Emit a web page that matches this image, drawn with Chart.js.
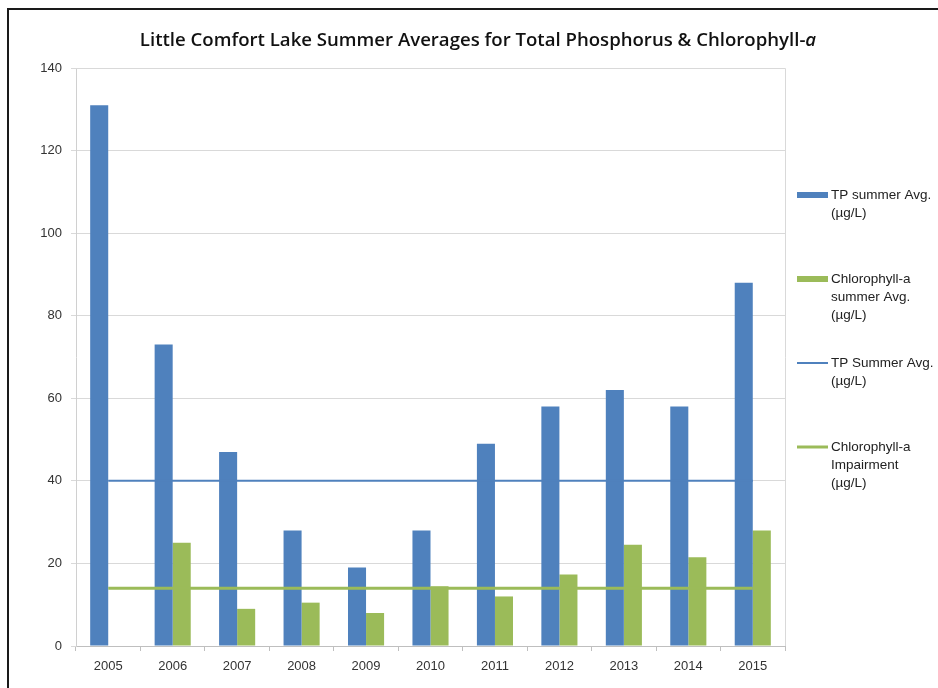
<!DOCTYPE html>
<html>
<head>
<meta charset="utf-8">
<script src="https://cdn.jsdelivr.net/npm/chart.js@4.4.1/dist/chart.umd.min.js"></script>
<style>
  body { margin: 0; background: #fff; overflow: hidden; }
  #wrap { position: relative; width: 938px; height: 688px; }
  #frame { position: absolute; left: 7px; top: 8px; width: 1000px; height: 1000px;
           border-left: 2px solid #1a1a1a; border-top: 2px solid #1a1a1a; pointer-events: none; }
</style>
</head>
<body>
<div id="wrap">
  <canvas id="chart" width="938" height="688"></canvas>
  <div id="frame"></div>
</div>
<script>
// data
const years = ['2005', '2006', '2007', '2008', '2009', '2010', '2011', '2012', '2013', '2014', '2015'];
const tpSummerAvg = [131, 73, 47, 28, 19, 28, 49, 58, 62, 58, 88];
const chlSummerAvg = [null, 25, 9, 10.5, 8, 14.5, 12, 17.3, 24.5, 21.5, 28];
const tpStandard = [40, 40, 40, 40, 40, 40, 40, 40, 40, 40, 40];
const chlImpairment = [14, 14, 14, 14, 14, 14, 14, 14, 14, 14, 14];
const yMax = 140;
const yStep = 20;

const legendLabels = [
  ['TP summer Avg.', '(µg/L)'],
  ['Chlorophyll-a', 'summer Avg.', '(µg/L)'],
  ['TP Summer Avg.', '(µg/L)'],
  ['Chlorophyll-a', 'Impairment', '(µg/L)']
];
const titleText = 'Little Comfort Lake Summer Averages for Total Phosphorus & Chlorophyll-';
const titleItalic = 'a';

const blue = '#4F81BD';
const green = '#9BBB59';
const font = '"Liberation Sans", Arial, sans-serif';
const titleFont = '"Open Sans", "Liberation Sans", sans-serif';

// title with italic last letter
const titlePlugin = {
  id: 'excelTitle',
  afterDraw(chart) {
    const ctx = chart.ctx;
    ctx.save();
    ctx.fillStyle = '#111';
    ctx.textBaseline = 'middle';
    ctx.font = '600 18.6px ' + titleFont;
    const w1 = ctx.measureText(titleText).width;
    ctx.font = 'italic 600 18.6px ' + titleFont;
    const w2 = ctx.measureText(titleItalic).width;
    let x = 478 - (w1 + w2) / 2;
    ctx.font = '600 18.6px ' + titleFont;
    ctx.fillText(titleText, x, 41);
    ctx.font = 'italic 600 18.6px ' + titleFont;
    ctx.fillText(titleItalic, x + w1, 41);
    ctx.restore();
  }
};

// plot area frame (top and right sides)
const framePlugin = {
  id: 'plotFrame',
  beforeDatasetsDraw(chart) {
    const a = chart.chartArea;
    const ctx = chart.ctx;
    ctx.save();
    ctx.strokeStyle = '#d9d9d9';
    ctx.lineWidth = 1;
    ctx.beginPath();
    ctx.moveTo(a.left, a.top + 0.5);
    ctx.lineTo(a.right + 0.5, a.top + 0.5);
    ctx.lineTo(a.right + 0.5, a.bottom);
    ctx.stroke();
    ctx.restore();
  }
};

// legend on the right, items evenly spaced like Excel
const legendPlugin = {
  id: 'sideLegend',
  afterDraw(chart) {
    const ctx = chart.ctx;
    ctx.save();
    ctx.font = '13.5px ' + font;
    ctx.textBaseline = 'middle';
    chart.data.datasets.forEach((ds, i) => {
      const y = 195 + i * 84;
      if (ds.type === 'line') {
        ctx.strokeStyle = ds.borderColor;
        ctx.lineWidth = ds.borderWidth;
        ctx.beginPath();
        ctx.moveTo(797, y);
        ctx.lineTo(828, y);
        ctx.stroke();
      } else {
        ctx.fillStyle = ds.backgroundColor;
        ctx.fillRect(797, y - 3, 31, 6);
      }
      ctx.fillStyle = '#222';
      legendLabels[i].forEach((line, j) => {
        ctx.fillText(line, 831, y + j * 18);
      });
    });
    ctx.restore();
  }
};

const ctx = document.getElementById('chart');
new Chart(ctx, {
  type: 'bar',
  data: {
    labels: years,
    datasets: [
      { label: legendLabels[0].join(' '), data: tpSummerAvg, backgroundColor: blue, order: 2,
        categoryPercentage: 0.56, barPercentage: 1.0 },
      { label: legendLabels[1].join(' '), data: chlSummerAvg, backgroundColor: green, order: 2,
        categoryPercentage: 0.56, barPercentage: 1.0 },
      { type: 'line', label: legendLabels[2].join(' '), data: tpStandard, borderColor: blue,
        borderWidth: 2, pointRadius: 0, tension: 0, fill: false, order: 1 },
      { type: 'line', label: legendLabels[3].join(' '), data: chlImpairment, borderColor: green,
        borderWidth: 3, pointRadius: 0, tension: 0, fill: false, order: 1 }
    ]
  },
  options: {
    responsive: false,
    animation: false,
    layout: { padding: { top: 68, right: 153, bottom: 0, left: 0 } },
    plugins: {
      legend: { display: false },
      title: { display: false },
      tooltip: { enabled: false }
    },
    scales: {
      x: {
        afterFit(scale) { scale.height = 42; },
        grid: { drawOnChartArea: false, drawTicks: true, tickLength: 5, color: '#bfbfbf', offset: true },
        border: { display: true, color: '#bfbfbf' },
        ticks: { color: '#333', padding: 8, font: { family: font, size: 13 }, maxRotation: 0 }
      },
      y: {
        min: 0,
        max: yMax,
        afterFit(scale) { scale.width = 76; },
        grid: { color: '#d9d9d9', tickLength: 5 },
        border: { display: true, color: '#d0d0d0' },
        ticks: { stepSize: yStep, color: '#333', padding: 9, font: { family: font, size: 13 } }
      }
    }
  },
  plugins: [framePlugin, titlePlugin, legendPlugin]
});
</script>
</body>
</html>
